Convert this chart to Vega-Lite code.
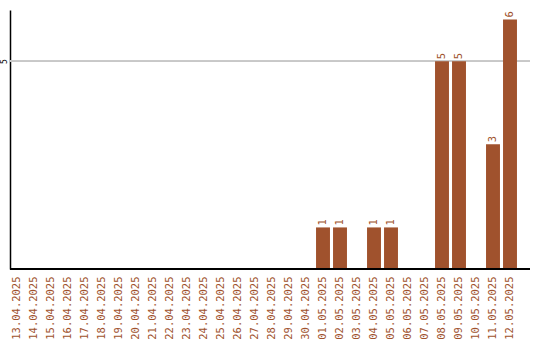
{
  "$schema": "https://vega.github.io/schema/vega-lite/v6.json",
  "autosize": "none",
  "width": 520,
  "height": 259,
  "padding": {"left": 10, "top": 10, "right": 10, "bottom": 71},
  "background": "white",
  "config": {"view": {"stroke": null}, "font": "DejaVu Sans Mono"},
  "data": {
    "values": [
      {"date": "13.04.2025", "count": 0},
      {"date": "14.04.2025", "count": 0},
      {"date": "15.04.2025", "count": 0},
      {"date": "16.04.2025", "count": 0},
      {"date": "17.04.2025", "count": 0},
      {"date": "18.04.2025", "count": 0},
      {"date": "19.04.2025", "count": 0},
      {"date": "20.04.2025", "count": 0},
      {"date": "21.04.2025", "count": 0},
      {"date": "22.04.2025", "count": 0},
      {"date": "23.04.2025", "count": 0},
      {"date": "24.04.2025", "count": 0},
      {"date": "25.04.2025", "count": 0},
      {"date": "26.04.2025", "count": 0},
      {"date": "27.04.2025", "count": 0},
      {"date": "28.04.2025", "count": 0},
      {"date": "29.04.2025", "count": 0},
      {"date": "30.04.2025", "count": 0},
      {"date": "01.05.2025", "count": 1},
      {"date": "02.05.2025", "count": 1},
      {"date": "03.05.2025", "count": 0},
      {"date": "04.05.2025", "count": 1},
      {"date": "05.05.2025", "count": 1},
      {"date": "06.05.2025", "count": 0},
      {"date": "07.05.2025", "count": 0},
      {"date": "08.05.2025", "count": 5},
      {"date": "09.05.2025", "count": 5},
      {"date": "10.05.2025", "count": 0},
      {"date": "11.05.2025", "count": 3},
      {"date": "12.05.2025", "count": 6}
    ]
  },
  "encoding": {
    "x": {
      "field": "date",
      "type": "nominal",
      "sort": null,
      "title": null,
      "scale": {"range": [-1.5, 508.5], "paddingInner": 0.18, "paddingOuter": 0.09},
      "axis": {
        "domain": false,
        "ticks": false,
        "grid": false,
        "labelAngle": 270,
        "labelAlign": "right",
        "labelBaseline": "middle",
        "labelColor": "#a0522d",
        "labelFont": "DejaVu Sans Mono",
        "labelFontSize": 10.5,
        "labelPadding": 7
      }
    },
    "y": {
      "field": "count",
      "type": "quantitative",
      "title": null,
      "scale": {"domain": [0, 6.23], "nice": false, "zero": true},
      "axis": {
        "values": [5],
        "ticks": false,
        "domainColor": "#000000",
        "domainWidth": 1.5,
        "grid": false,
        "labelAngle": 270,
        "labelColor": "#000000",
        "labelFont": "DejaVu Sans Mono",
        "labelFontSize": 8,
        "labelPadding": 2
      }
    }
  },
  "layer": [
    {
      "mark": {"type": "rule", "color": "#c8c8c8", "strokeWidth": 1},
      "encoding": {"y": {"datum": 5}, "x": null}
    },
    {"mark": {"type": "bar", "color": "#a0522d"}},
    {
      "transform": [{"filter": "datum.count > 0"}],
      "mark": {
        "type": "text",
        "angle": 270,
        "align": "left",
        "baseline": "middle",
        "dx": 2,
        "color": "#a0522d",
        "font": "DejaVu Sans Mono",
        "fontSize": 10.5
      },
      "encoding": {"text": {"field": "count", "type": "quantitative"}}
    },
    {
      "mark": {"type": "rule", "color": "#000000", "strokeWidth": 1.5},
      "encoding": {"y": {"datum": 0}, "x": null}
    }
  ]
}
